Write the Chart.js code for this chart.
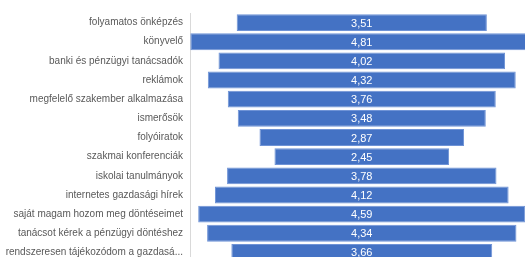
<!DOCTYPE html>
<html>
<head>
<meta charset="utf-8">
<script src="https://cdn.jsdelivr.net/npm/chart.js@4/dist/chart.umd.min.js"></script>
<style>
  html, body { margin: 0; padding: 0; background: #fff; overflow: hidden; }
  #wrap { width: 525px; height: 257px; overflow: hidden; }
</style>
</head>
<body>
<div id="wrap"><canvas id="myChart" width="525" height="275"></canvas></div>
<script>
const categories = [
  'folyamatos önképzés',
  'könyvelő',
  'banki és pénzügyi tanácsadók',
  'reklámok',
  'megfelelő szakember alkalmazása',
  'ismerősök',
  'folyóiratok',
  'szakmai konferenciák',
  'iskolai tanulmányok',
  'internetes gazdasági hírek',
  'saját magam hozom meg döntéseimet',
  'tanácsot kérek a pénzügyi döntéshez',
  'rendszeresen tájékozódom a gazdasá...'
];
const values = [3.51, 4.81, 4.02, 4.32, 3.76, 3.48, 2.87, 2.45, 3.78, 4.12, 4.59, 4.34, 3.66];

// bars centred on zero, like a funnel
const spans = values.map(v => [-v / 2, v / 2]);

const valueLabels = {
  id: 'valueLabels',
  afterDatasetsDraw(chart) {
    const ctx = chart.ctx;
    const meta = chart.getDatasetMeta(0);
    const xc = chart.scales.x.getPixelForValue(0);
    ctx.save();
    ctx.fillStyle = '#ffffff';
    ctx.font = '11px "Liberation Sans", sans-serif';
    ctx.textAlign = 'center';
    ctx.textBaseline = 'middle';
    meta.data.forEach((bar, i) => {
      ctx.fillText(values[i].toFixed(2).replace('.', ','), xc, bar.y + 1);
    });
    ctx.restore();
  }
};

const ctx = document.getElementById('myChart').getContext('2d');
new Chart(ctx, {
  type: 'bar',
  data: {
    labels: categories,
    datasets: [{
      data: spans,
      backgroundColor: '#4472C4',
      borderColor: '#6f93d6',
      borderWidth: 1,
      borderSkipped: false,
      categoryPercentage: 1,
      barPercentage: 0.88
    }]
  },
  options: {
    indexAxis: 'y',
    responsive: false,
    animation: false,
    devicePixelRatio: 1,
    layout: { padding: { top: 12, bottom: 1, left: 0, right: 0 } },
    plugins: {
      legend: { display: false },
      tooltip: { enabled: false }
    },
    scales: {
      x: {
        display: false,
        min: -2.41,
        max: 2.29
      },
      y: {
        afterFit(scale) { scale.width = 190; },
        grid: { display: false, drawTicks: false },
        border: { display: true, color: '#d9d9d9', width: 1 },
        ticks: {
          padding: 7,
          color: '#595959',
          font: { family: '"Liberation Sans", sans-serif', size: 10 }
        }
      }
    }
  },
  plugins: [valueLabels]
});
</script>
</body>
</html>
